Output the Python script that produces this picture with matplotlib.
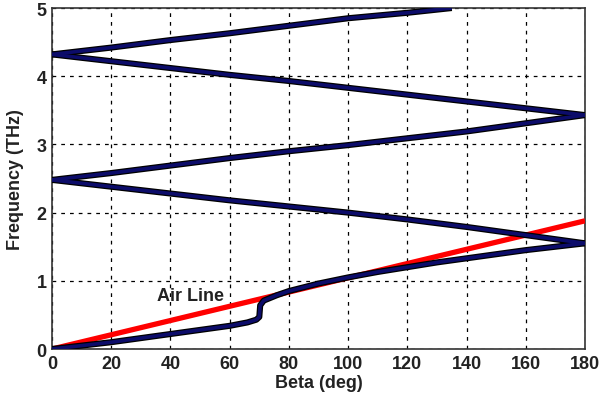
import matplotlib
matplotlib.use('Agg')
import matplotlib.pyplot as plt
import numpy as np

plt.rcParams['font.family'] = ['Liberation Sans', 'DejaVu Sans']
plt.rcParams['font.weight'] = 'bold'

# band curves (beta in deg, frequency in THz)
band1_beta = [0, 10, 20, 30, 40, 50, 60, 66, 69, 70, 70.3, 71.5, 76, 80, 90, 100, 110, 120, 130, 140, 150, 160, 170, 180]
band1_freq = [0, 0.05, 0.10, 0.16, 0.22, 0.28, 0.34, 0.39, 0.43, 0.47, 0.64, 0.71, 0.79, 0.85, 0.96, 1.05, 1.13, 1.20, 1.27, 1.33, 1.39, 1.45, 1.50, 1.55]
band2_beta = [180, 160, 140, 120, 100, 80, 60, 40, 20, 0]
band2_freq = [1.55, 1.67, 1.79, 1.90, 2.00, 2.09, 2.18, 2.28, 2.38, 2.48]
band3_beta = [0, 20, 40, 60, 80, 100, 120, 140, 160, 180]
band3_freq = [2.48, 2.58, 2.69, 2.80, 2.90, 2.99, 3.09, 3.19, 3.31, 3.43]
band4_beta = [180, 160, 140, 120, 100, 80, 60, 40, 20, 0]
band4_freq = [3.43, 3.53, 3.63, 3.73, 3.83, 3.93, 4.02, 4.12, 4.22, 4.32]
band5_beta = [0, 20, 40, 60, 80, 100, 120, 135]
band5_freq = [4.32, 4.42, 4.53, 4.63, 4.74, 4.85, 4.93, 5.0]

air_beta = [0, 180]
air_freq = [0, 1.88]

navy = '#0c0c6a'
txt = '#222222'

fig = plt.figure(figsize=(6.02, 4.10), dpi=100)
ax = fig.add_axes([0.0864, 0.1463, 0.8854, 0.8317])

ax.plot(air_beta, air_freq, color='#ff0000', lw=3.8, solid_capstyle='butt', zorder=3)
for b, f in [(band1_beta, band1_freq), (band2_beta, band2_freq), (band3_beta, band3_freq),
             (band4_beta, band4_freq), (band5_beta, band5_freq)]:
    ax.plot(b, f, color='black', lw=4.4, solid_capstyle='butt', zorder=4)
    ax.plot(b, f, color=navy, lw=2.6, solid_capstyle='butt', zorder=5)

ax.text(35.5, 0.78, 'Air Line', fontsize=13, fontweight='bold', color=txt, va='center', ha='left')

ax.set_xlim(0, 180)
ax.set_ylim(0, 5)
ax.set_xticks(np.arange(0, 181, 20))
ax.set_yticks(np.arange(0, 6, 1))
ax.grid(True, color='black', linestyle=(0, (3, 4)), linewidth=0.9)
ax.tick_params(direction='in', length=0, labelsize=13, pad=4, colors=txt)
for lab in ax.get_xticklabels() + ax.get_yticklabels():
    lab.set_fontweight('bold')
for s in ax.spines.values():
    s.set_color('#333333')
    s.set_linewidth(1.2)

ax.set_xlabel('Beta (deg)', fontsize=13, fontweight='bold', color=txt, labelpad=2)
ax.set_ylabel('Frequency (THz)', fontsize=13, fontweight='bold', color=txt, labelpad=9)

plt.savefig('out.png', dpi=100)
